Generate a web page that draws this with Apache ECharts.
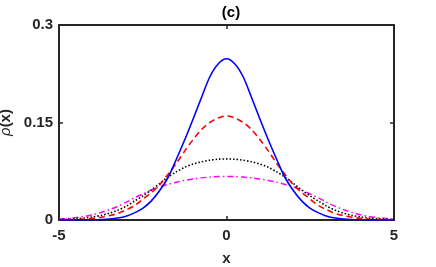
<!DOCTYPE html>
<html><head><meta charset="utf-8">
<script src="https://cdn.jsdelivr.net/npm/echarts@6/dist/echarts.min.js"></script>
<style>html,body{margin:0;padding:0;background:#fff}#c{width:436px;height:267px}</style>
</head><body><div id="c"></div>
<script>
const xs = [-5,-4.75,-4.5,-4.25,-4,-3.75,-3.5,-3.25,-3,-2.75,-2.5,-2.25,-2,-1.75,-1.5,-1.25,-1,-0.75,-0.5,-0.25,
            0,0.25,0.5,0.75,1,1.25,1.5,1.75,2,2.25,2.5,2.75,3,3.25,3.5,3.75,4,4.25,4.5,4.75,5];
const blue = [0,0,0.0001,0.0002,0.0004,0.0008,0.0015,0.003,0.0058,0.011,0.018,0.029,0.045,0.065,0.093,0.123,0.155,0.188,0.220,0.240,
              0.248,0.240,0.220,0.188,0.155,0.123,0.093,0.065,0.045,0.029,0.018,0.011,0.0058,0.003,0.0015,0.0008,0.0004,0.0002,0.0001,0,0];
const red = [0.0002,0.0004,0.0008,0.0015,0.0025,0.0042,0.0067,0.010,0.0156,0.022,0.032,0.042,0.054,0.070,0.087,0.106,0.1235,0.139,0.150,0.157,
             0.160,0.157,0.150,0.139,0.1235,0.106,0.087,0.070,0.054,0.042,0.032,0.022,0.0156,0.010,0.0067,0.0042,0.0025,0.0015,0.0008,0.0004,0.0002];
const black = [0.0007,0.0012,0.0019,0.003,0.0048,0.007,0.0105,0.015,0.021,0.029,0.037,0.046,0.056,0.066,0.074,0.081,0.086,0.0895,0.092,0.0935,
               0.094,0.0935,0.092,0.0895,0.086,0.081,0.074,0.066,0.056,0.046,0.037,0.029,0.021,0.015,0.0105,0.007,0.0048,0.003,0.0019,0.0012,0.0007];
const magenta = [0.0015,0.0025,0.0037,0.0055,0.008,0.0115,0.0158,0.021,0.027,0.034,0.040,0.046,0.051,0.0547,0.058,0.0608,0.063,0.0648,0.066,0.0668,
                 0.067,0.0668,0.066,0.0648,0.063,0.0608,0.058,0.0547,0.051,0.046,0.040,0.034,0.027,0.021,0.0158,0.0115,0.008,0.0055,0.0037,0.0025,0.0015];
const xTicks = [-5,0,5];
const yTicks = [0,0.15,0.3];

const pairs = ys => xs.map((x,i)=>[x,ys[i]]);
const axisCol = '#262626';
const font = 'Liberation Sans, Arial, sans-serif';
const chart = echarts.init(document.getElementById('c'));
const lineAxis = {show:true, onZero:false, lineStyle:{color:axisCol, width:2}};
const tick = {inside:true, length:4, lineStyle:{color:axisCol, width:1.5}};
chart.setOption({
  animation:false,
  title:{text:'(c)', left:226, top:0, textAlign:'center',
    textStyle:{fontFamily:font, fontWeight:'bold', fontSize:15, color:'#000'}},
  grid:{left:59, right:42, top:25, bottom:47, containLabel:false, outerBoundsMode:'none'},
  xAxis:[{type:'value', min:-5, max:5, interval:5, position:'bottom',
    name:'x', nameLocation:'middle', nameGap:31,
    nameTextStyle:{fontFamily:font, fontWeight:'bold', fontSize:15, color:axisCol},
    axisLine:lineAxis, splitLine:{show:false}, axisTick:tick,
    axisLabel:{fontFamily:font, fontWeight:'bold', fontSize:15, color:axisCol, margin:8,
      formatter:v=>xTicks.includes(v)?String(v):''}},
   {type:'value', min:-5, max:5, interval:5, position:'top',
    axisLine:lineAxis, splitLine:{show:false}, axisLabel:{show:false}, axisTick:tick}],
  yAxis:[{type:'value', min:0, max:0.3, interval:0.15, position:'left',
    name:'{i|ρ}{b|(x)}', nameLocation:'middle', nameGap:37, nameRotate:90,
    nameTextStyle:{rich:{i:{fontFamily:font, fontStyle:'italic', fontSize:15, color:axisCol},
                         b:{fontFamily:font, fontWeight:'bold', fontSize:15, color:axisCol}}},
    axisLine:lineAxis, splitLine:{show:false}, axisTick:tick,
    axisLabel:{fontFamily:font, fontWeight:'bold', fontSize:15, color:axisCol, margin:6,
      formatter:v=>{const t=yTicks.find(k=>Math.abs(k-v)<1e-9);return t===undefined?'':String(t);}}},
   {type:'value', min:0, max:0.3, interval:0.15, position:'right',
    axisLine:lineAxis, splitLine:{show:false}, axisLabel:{show:false}, axisTick:tick}],
  series:[
    {type:'line', data:pairs(magenta), smooth:0.3, symbol:'none', lineStyle:{color:'#FF00FF', width:1.5, type:[6,3,1.5,3]}},
    {type:'line', data:pairs(black), smooth:0.3, symbol:'none', lineStyle:{color:'#000000', width:1.6, type:[1.5,2]}},
    {type:'line', data:pairs(red), smooth:0.3, symbol:'none', lineStyle:{color:'#FF0000', width:1.6, type:[6,4]}},
    {type:'line', data:pairs(blue), smooth:0.3, symbol:'none', lineStyle:{color:'#0000FF', width:1.6}}
  ]
});
</script></body></html>
